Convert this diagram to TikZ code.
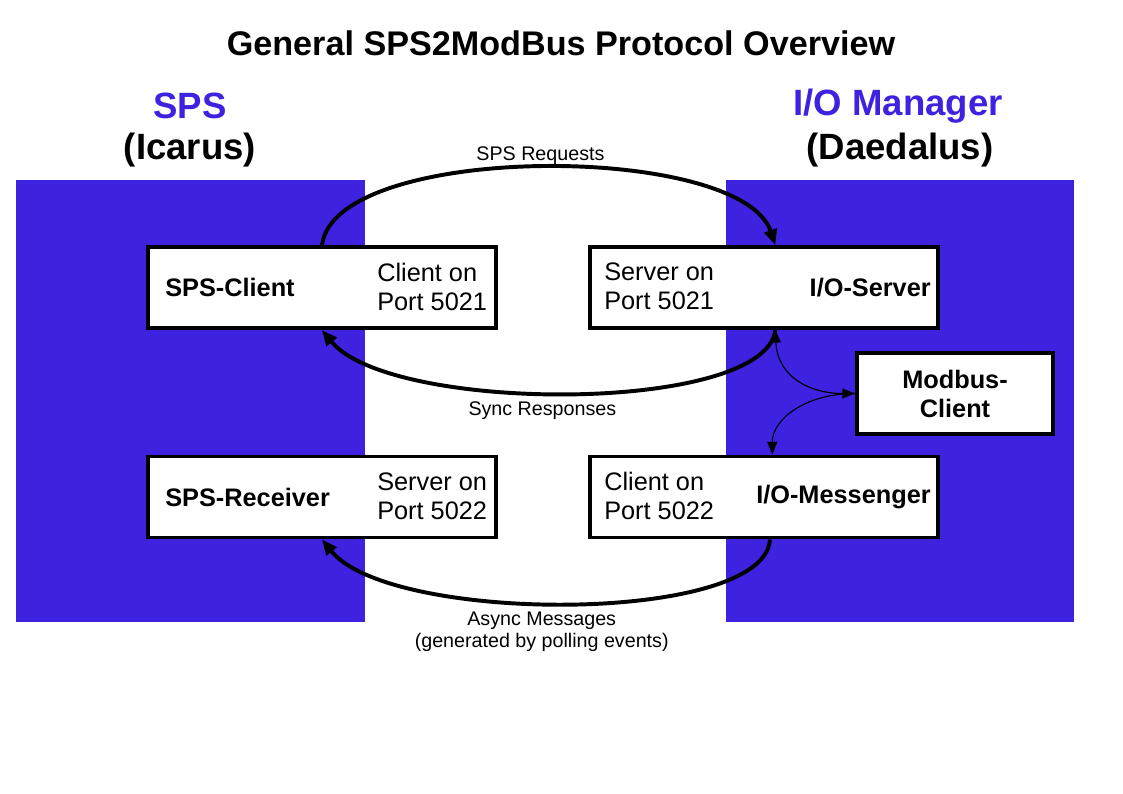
\documentclass[tikz,border=0pt]{standalone}
\usepackage{fontspec}
\setmainfont{Liberation Sans}
\definecolor{mPanelBlue}{HTML}{3D22E0}
\usepackage{tikz}
\usetikzlibrary{positioning,arrows.meta}
\newcommand{\protobox}[6]{%
\node[draw=black, fill=white, line width=2.8pt, minimum width=8.7cm, minimum height=2.025cm] (#3) at (#1,#2) {};%
\ifnum#6=0
 \node[anchor=west, inner sep=0pt, font=\boxfont\bfseries] (#3-title) at ({#1-157},#2) {#4};%
 \node[anchor=west, inner sep=0pt, align=left, font=\boxfont] (#3-port) at ({#1+55},{#2-1}) {#5};%
\else
 \node[anchor=east, inner sep=0pt, font=\boxfont\bfseries] (#3-title) at ({#1+167},#2) {#4};%
 \node[anchor=west, inner sep=0pt, align=left, font=\boxfont] (#3-port) at ({#1-160},{#2-1}) {#5};%
\fi}
\newcommand{\boxfont}{\fontsize{18}{20.6}\selectfont}
\newcommand{\headfont}{\fontsize{26}{30}\selectfont\bfseries}
\newcommand{\notefont}{\fontsize{14}{16}\selectfont}

\begin{document}
\begin{tikzpicture}[x=0.025cm, y=-0.025cm,
 bigarrow/.style={line width=2.8pt, -{Triangle[length=11pt,width=9pt]}},
 smallarrow/.style={line width=0.8pt}]
\useasboundingbox (0,0) rectangle (1123,794);
% side panels
\fill[mPanelBlue] (16,180) rectangle (365,622);
\fill[mPanelBlue] (726,180) rectangle (1074,622);
% headings
\node[font=\fontsize{24.3}{28}\selectfont\bfseries] (title) at (561,43) {General SPS2ModBus Protocol Overview};
\node[font=\headfont, text=mPanelBlue] (sps) at (190,106) {SPS};
\node[font=\headfont] (icarus) at (190,150) {(Icarus)};
\node[font=\headfont, text=mPanelBlue] (iomanager) at (898,106) {I/O Manager};
\node[font=\headfont] (daedalus) at (900,150) {(Daedalus)};
% boxes
\protobox{322}{287.5}{spsclient}{SPS-Client}{Client on\\Port 5021}{0}
\protobox{764}{287.5}{ioserver}{I/O-Server}{Server on\\Port 5021}{1}
\protobox{322}{497}{spsreceiver}{SPS-Receiver}{Server on\\Port 5022}{0}
\protobox{764}{497}{iomessenger}{I/O-Messenger}{Client on\\Port 5022}{1}
\node[draw=black, fill=white, line width=2.8pt, minimum width=4.9cm, minimum height=2.025cm, align=center, font=\boxfont\bfseries] (modbus) at (955,393.5) {Modbus-\\Client};
% connectors
\draw[bigarrow] (spsclient.north) .. controls +(13,-103) and +(-35,-103) .. node[above, inner sep=1pt, font=\notefont] (req) {SPS Requests} (ioserver.75);
\draw[bigarrow] (ioserver.-75) .. controls +(-10,84) and +(68,84) .. node[pos=0.545, below, inner sep=5pt, font=\notefont] (resp) {Sync Responses} (spsclient.south);
\draw[bigarrow] (iomessenger.-82) .. controls +(-5,85) and +(68,85) .. node[pos=0.545, below, inner sep=5pt, align=center, font=\notefont] (async) {Async Messages\\(generated by polling events)} (spsreceiver.south);
\draw[smallarrow, {Triangle[length=9pt,width=7pt]}-{Triangle[length=9pt,width=7pt]}] (ioserver.-75) .. controls +(2,47) and +(-45,0) .. (modbus.west);
\draw[smallarrow, -{Triangle[length=9pt,width=7pt]}] (modbus.west) .. controls +(-50,0) and +(0,-35) .. (iomessenger.79);
\end{tikzpicture}
\end{document}
